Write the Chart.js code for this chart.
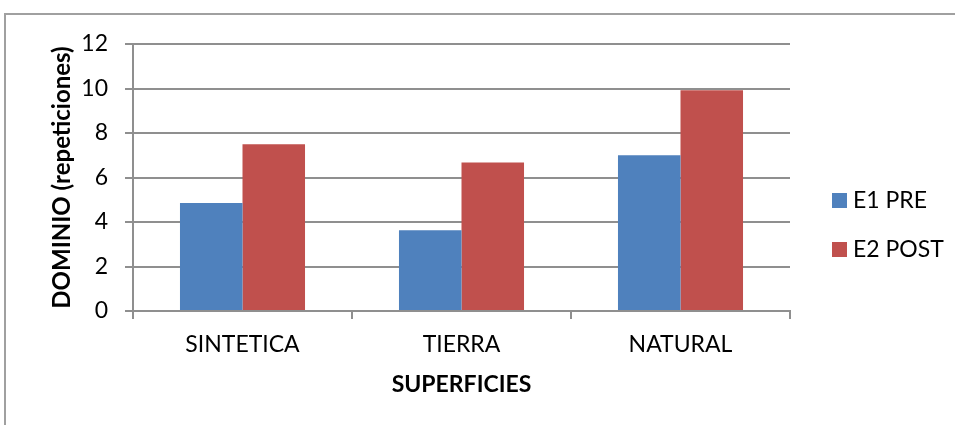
<!DOCTYPE html>
<html>
<head>
<meta charset="utf-8">
<script src="https://cdn.jsdelivr.net/npm/chart.js@4/dist/chart.umd.min.js"></script>
<style>
  html, body { margin: 0; padding: 0; background: #fff; }
  #wrap { position: relative; width: 955px; height: 425px; overflow: hidden; }
  canvas { display: block; }
</style>
</head>
<body>
<div id="wrap"><canvas id="c" width="955" height="425"></canvas></div>
<script>
// Surfaces and repetitions per test
const categories = ['SINTETICA', 'TIERRA', 'NATURAL'];
const seriesNames = ['E1 PRE', 'E2 POST'];
const e1Pre = [4.85, 3.63, 7.0];
const e2Post = [7.5, 6.67, 9.92];
const yTicks = [0, 2, 4, 6, 8, 10, 12];

const FONT = 'Lato, "Open Sans", sans-serif';
const BLUE = '#4F81BD';
const RED = '#C0504D';
const AXIS = '#8f8f8f';

// outer frame around the chart
const framePlugin = {
  id: 'frame',
  beforeDraw(chart) {
    const ctx = chart.ctx;
    ctx.save();
    ctx.fillStyle = '#fff';
    ctx.fillRect(0, 0, chart.width, chart.height);
    ctx.strokeStyle = '#a0a0a0';
    ctx.lineWidth = 2;
    ctx.strokeRect(5, 14, chart.width + 20, chart.height + 20);
    ctx.restore();
  }
};

// legend drawn to the right of the plot, vertically stacked
const legendPlugin = {
  id: 'sideLegend',
  afterDraw(chart) {
    const ctx = chart.ctx;
    ctx.save();
    ctx.font = '23px ' + FONT;
    ctx.textBaseline = 'middle';
    chart.data.datasets.forEach((ds, i) => {
      const y = 193 + i * 49;
      ctx.fillStyle = ds.backgroundColor;
      ctx.fillRect(832, y, 15, 15);
      ctx.fillStyle = '#000';
      ctx.fillText(ds.label, 853, y + 8);
    });
    ctx.restore();
  }
};

new Chart(document.getElementById('c'), {
  type: 'bar',
  data: {
    labels: categories,
    datasets: [
      { label: seriesNames[0], data: e1Pre, backgroundColor: BLUE, borderWidth: 0 },
      { label: seriesNames[1], data: e2Post, backgroundColor: RED, borderWidth: 0 }
    ]
  },
  options: {
    responsive: false,
    animation: false,
    devicePixelRatio: 1,
    layout: { padding: { left: 44, right: 165, top: 44, bottom: 23 } },
    plugins: { legend: { display: false }, tooltip: { enabled: false } },
    datasets: { bar: { categoryPercentage: 0.571, barPercentage: 1.0 } },
    scales: {
      x: {
        afterFit(scale) { scale.height = 91; },
        grid: { display: true, drawOnChartArea: false, drawTicks: true, tickLength: 8, offset: true, color: AXIS, lineWidth: 2 },
        border: { display: true, color: AXIS, width: 2 },
        ticks: { color: '#000', font: { family: FONT, size: 23 }, padding: 12 },
        title: { display: true, text: 'SUPERFICIES', color: '#000', font: { family: FONT, size: 23, weight: 'bold' } }
      },
      y: {
        min: 0,
        max: 12,
        afterFit(scale) { scale.width = 89; },
        afterBuildTicks(scale) { scale.ticks = yTicks.map(v => ({ value: v })); },
        grid: { color: AXIS, lineWidth: 2, tickLength: 8, drawTicks: true },
        border: { display: true, color: AXIS, width: 2 },
        ticks: { color: '#000', font: { family: FONT, size: 23 }, padding: 17 },
        title: { display: true, text: 'DOMINIO (repeticiones)', color: '#000', font: { family: FONT, size: 24, weight: 'bold' } }
      }
    }
  },
  plugins: [framePlugin, legendPlugin]
});
</script>
</body>
</html>
